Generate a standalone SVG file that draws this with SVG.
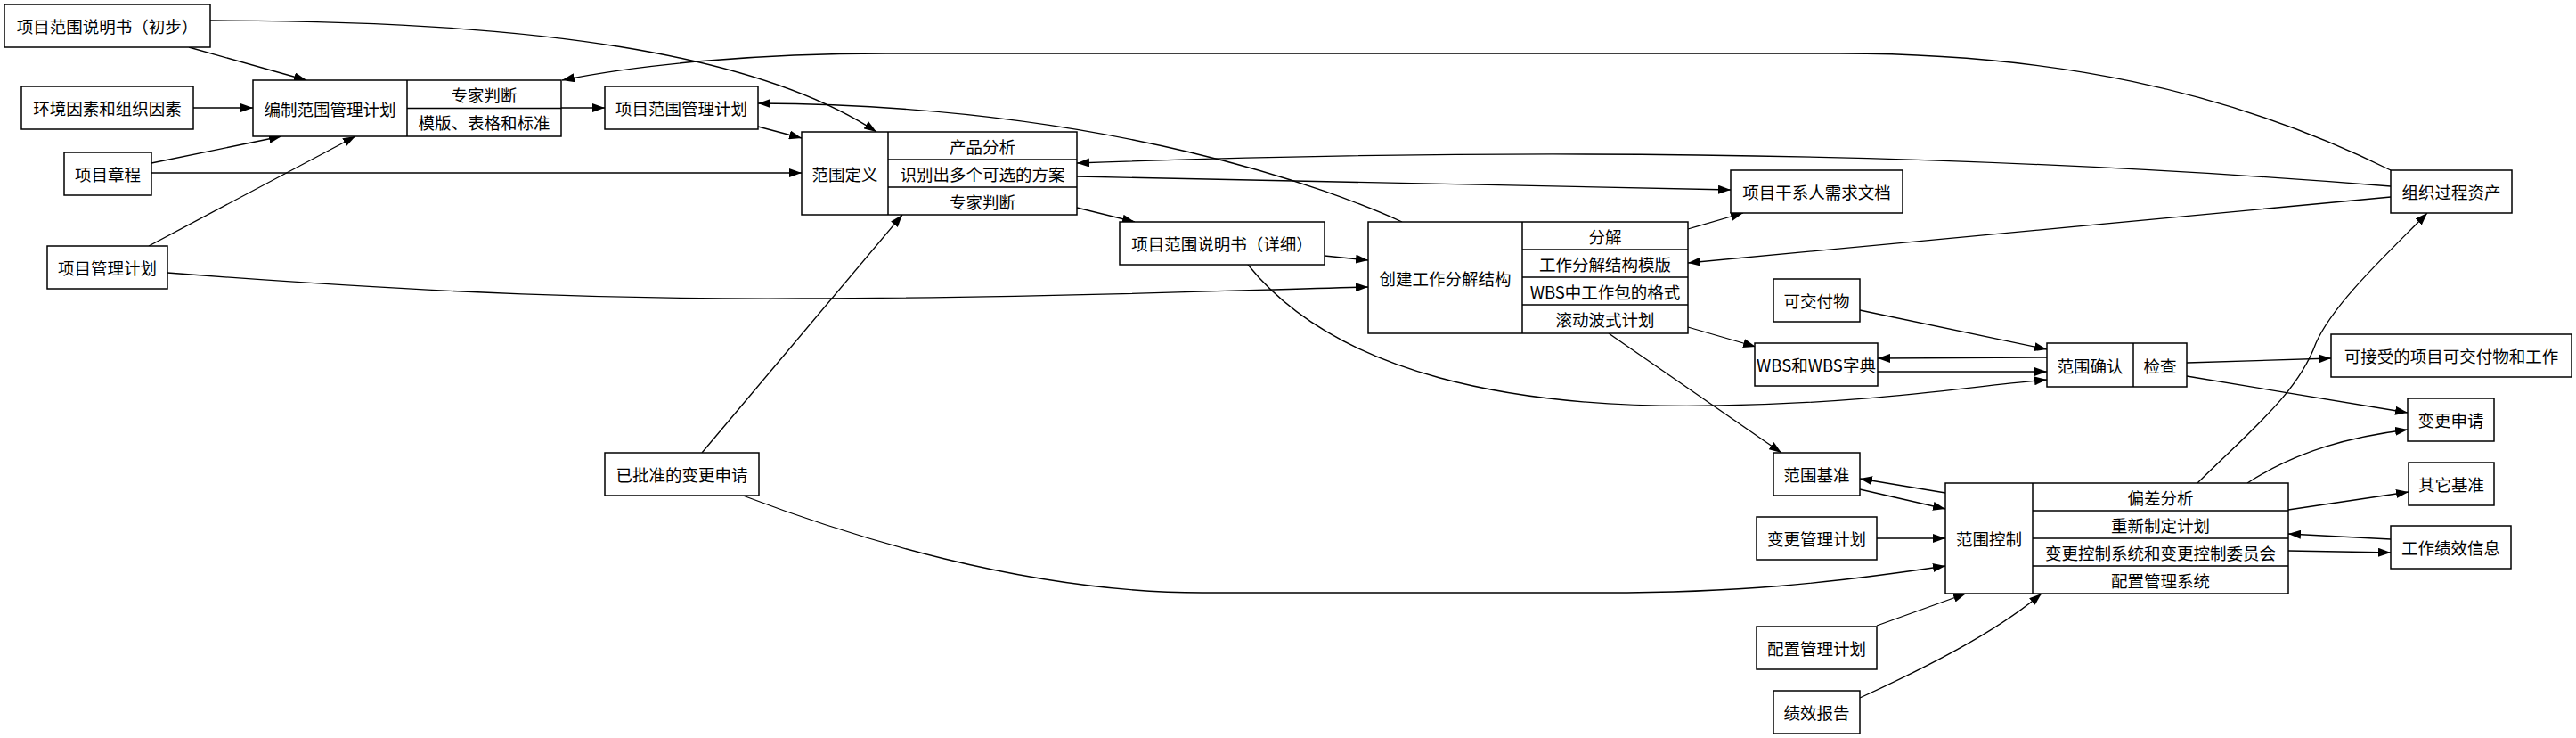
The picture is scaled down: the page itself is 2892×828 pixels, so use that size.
<svg xmlns="http://www.w3.org/2000/svg" width="2892" height="828" viewBox="0 0 2892 828">
<defs>
<marker id="ah" markerUnits="userSpaceOnUse" markerWidth="14" markerHeight="10" refX="14" refY="5" orient="auto">
<path d="M0,0 L14,5 L0,10 z" fill="#000"/>
</marker>
<style>
.b{fill:#fff;stroke:#000;stroke-width:1.5}
.d{fill:none;stroke:#000;stroke-width:1.5}
.t{font-family:"Noto Sans CJK SC","Noto Sans",sans-serif;font-size:18.5px;fill:#000;text-anchor:middle;dominant-baseline:central}
.e{fill:none;stroke:#000;stroke-width:1.3;marker-end:url(#ah)}
</style>
</defs>
<rect width="2892" height="828" fill="#fff"/>
<g id="connectors">
<path class="e" d="M212,53 L344,90"/>
<path class="e" d="M236,23 C600,23 850,60 984,148"/>
<path class="e" d="M217,121 L284,121"/>
<path class="e" d="M170,183 L316,153"/>
<path class="e" d="M170,194 L900,194"/>
<path class="e" d="M167,276 L399,153"/>
<path class="e" d="M188,306 C500,330 700,336 900,335 C1200,334 1400,325 1536,322"/>
<path class="e" d="M630,121 L679,121"/>
<path class="e" d="M851,142 L900,155"/>
<path class="e" d="M2684,191 C2500,100 2300,60 2066,60 L995,60 C850,60 720,72 631,90"/>
<path class="e" d="M1574,249 C1500,215 1250,118 851,116"/>
<path class="e" d="M1209,233 L1274,249"/>
<path class="e" d="M788,508 L1013,241"/>
<path class="e" d="M2684,209 C2200,170 1700,165 1209,183"/>
<path class="e" d="M1209,198 L1943,213"/>
<path class="e" d="M1487,287 L1536,292"/>
<path class="e" d="M1401,297 C1500,420 1700,460 1931,455 C2100,452 2200,435 2298,426"/>
<path class="e" d="M1895,257 L1957,239"/>
<path class="e" d="M2684,221 L1895,295"/>
<path class="e" d="M1895,367 L1971,389"/>
<path class="e" d="M1806,374 L2000,508"/>
<path class="e" d="M2088,348 L2298,392"/>
<path class="e" d="M2298,401 L2108,402"/>
<path class="e" d="M2108,417 L2298,417"/>
<path class="e" d="M2455,407 L2617,402"/>
<path class="e" d="M2455,422 L2703,463"/>
<path class="e" d="M2184,553 L2088,537"/>
<path class="e" d="M2088,549 L2184,571"/>
<path class="e" d="M2107,604 L2184,604"/>
<path class="e" d="M834,556 C950,600 1150,665 1350,665 L1800,665 C1950,665 2050,655 2184,635"/>
<path class="e" d="M2467,542 C2530,480 2580,440 2600,385 C2620,340 2680,285 2725,239"/>
<path class="e" d="M2523,542 C2580,505 2640,490 2703,482"/>
<path class="e" d="M2569,572 L2704,552"/>
<path class="e" d="M2684,605 L2569,599"/>
<path class="e" d="M2569,618 L2684,620"/>
<path class="e" d="M2107,702 L2207,666"/>
<path class="e" d="M2088,783 C2160,750 2240,710 2292,666"/>
</g>
<g id="n_scope_prelim"><rect class="b" x="5" y="5" width="231" height="48"/><text class="t" x="120.5" y="29">项目范围说明书（初步）</text></g>
<g id="n_env"><rect class="b" x="24" y="97" width="193" height="48"/><text class="t" x="120.5" y="121">环境因素和组织因素</text></g>
<g id="n_plan_scope_mgmt"><rect class="b" x="284" y="90" width="346" height="63"/><path class="d" d="M457,90 V153 M457,121.5 H630"/><text class="t" x="370.5" y="121.5">编制范围管理计划</text><text class="t" x="543.5" y="105.5">专家判断</text><text class="t" x="543.5" y="137">模版、表格和标准</text></g>
<g id="n_scope_mgmt_plan"><rect class="b" x="679" y="97" width="172" height="48"/><text class="t" x="765" y="121">项目范围管理计划</text></g>
<g id="n_charter"><rect class="b" x="72" y="171" width="98" height="48"/><text class="t" x="121" y="195">项目章程</text></g>
<g id="n_pmp"><rect class="b" x="53" y="276" width="135" height="48"/><text class="t" x="120.5" y="300">项目管理计划</text></g>
<g id="n_define"><rect class="b" x="900" y="148" width="309" height="93"/><path class="d" d="M997,148 V241 M997,179 H1209 M997,210 H1209"/><text class="t" x="948.5" y="194.5">范围定义</text><text class="t" x="1103" y="163.5">产品分析</text><text class="t" x="1103" y="194.5">识别出多个可选的方案</text><text class="t" x="1103" y="225.5">专家判断</text></g>
<g id="n_scope_detail"><rect class="b" x="1257" y="249" width="230" height="48"/><text class="t" x="1372" y="273">项目范围说明书（详细）</text></g>
<g id="n_approved"><rect class="b" x="679" y="508" width="173" height="48"/><text class="t" x="765.5" y="532">已批准的变更申请</text></g>
<g id="n_create_wbs"><rect class="b" x="1536" y="249" width="359" height="125"/><path class="d" d="M1709,249 V374 M1709,280 H1895 M1709,311 H1895 M1709,342 H1895"/><text class="t" x="1622.5" y="311.5">创建工作分解结构</text><text class="t" x="1802" y="264.5">分解</text><text class="t" x="1802" y="295.5">工作分解结构模版</text><text class="t" x="1802" y="326.5">WBS中工作包的格式</text><text class="t" x="1802" y="358">滚动波式计划</text></g>
<g id="n_stake"><rect class="b" x="1943" y="191" width="193" height="48"/><text class="t" x="2039.5" y="215">项目干系人需求文档</text></g>
<g id="n_deliv"><rect class="b" x="1991" y="313" width="97" height="48"/><text class="t" x="2039.5" y="337">可交付物</text></g>
<g id="n_wbs"><rect class="b" x="1970" y="385" width="138" height="48"/><text class="t" x="2039" y="409">WBS和WBS字典</text></g>
<g id="n_verify"><rect class="b" x="2298" y="385" width="157" height="49"/><path class="d" d="M2395,385 V434"/><text class="t" x="2346.5" y="409.5">范围确认</text><text class="t" x="2425" y="409.5">检查</text></g>
<g id="n_baseline"><rect class="b" x="1991" y="508" width="97" height="48"/><text class="t" x="2039.5" y="532">范围基准</text></g>
<g id="n_chgplan"><rect class="b" x="1972" y="580" width="135" height="48"/><text class="t" x="2039.5" y="604">变更管理计划</text></g>
<g id="n_control"><rect class="b" x="2184" y="542" width="385" height="124"/><path class="d" d="M2282,542 V666 M2282,573 H2569 M2282,604 H2569 M2282,635 H2569"/><text class="t" x="2233" y="604">范围控制</text><text class="t" x="2425.5" y="557.5">偏差分析</text><text class="t" x="2425.5" y="588.5">重新制定计划</text><text class="t" x="2425.5" y="619.5">变更控制系统和变更控制委员会</text><text class="t" x="2425.5" y="650.5">配置管理系统</text></g>
<g id="n_cfgplan"><rect class="b" x="1972" y="703" width="135" height="48"/><text class="t" x="2039.5" y="727">配置管理计划</text></g>
<g id="n_perf"><rect class="b" x="1991" y="775" width="97" height="48"/><text class="t" x="2039.5" y="799">绩效报告</text></g>
<g id="n_opa"><rect class="b" x="2684" y="191" width="136" height="48"/><text class="t" x="2752" y="215">组织过程资产</text></g>
<g id="n_accept"><rect class="b" x="2617" y="375" width="270" height="48"/><text class="t" x="2752" y="399">可接受的项目可交付物和工作</text></g>
<g id="n_chgreq"><rect class="b" x="2703" y="447" width="97" height="48"/><text class="t" x="2751.5" y="471">变更申请</text></g>
<g id="n_other"><rect class="b" x="2704" y="519" width="96" height="48"/><text class="t" x="2752" y="543">其它基准</text></g>
<g id="n_wpi"><rect class="b" x="2684" y="590" width="135" height="48"/><text class="t" x="2751.5" y="614">工作绩效信息</text></g>
</svg>
